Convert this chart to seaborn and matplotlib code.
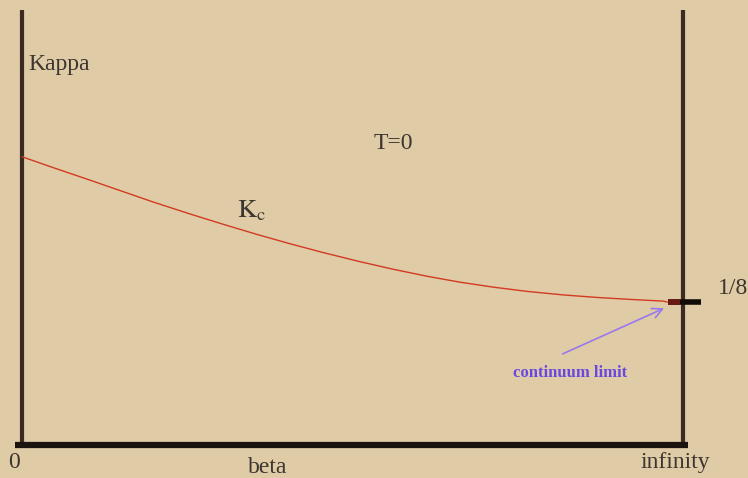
import matplotlib
matplotlib.use("Agg")
import matplotlib.pyplot as plt
import seaborn as sns
import pandas as pd

# curva critica K_c(beta), beta reescalado: 0 -> 0, infinito -> 1
beta = [0.0, 0.047, 0.098, 0.148, 0.198, 0.254, 0.304, 0.356, 0.405,
        0.455, 0.511, 0.561, 0.613, 0.663, 0.713, 0.764, 0.819, 0.870,
        0.920, 0.970, 0.976]
kappa_c = [0.252, 0.2425, 0.2325, 0.2225, 0.2125, 0.202, 0.193, 0.184,
           0.176, 0.1683, 0.1603, 0.1537, 0.1475, 0.1423, 0.138, 0.1343,
           0.1312, 0.129, 0.1273, 0.1258, 0.125]
kappa_limit = 0.125   # 1/8, limite del continuo
kappa_top = 0.380

df = pd.DataFrame({"beta": beta, "kappa": kappa_c})

bg = "#dfcba5"
sns.set_style("white", {"axes.facecolor": bg, "figure.facecolor": bg})
plt.rcParams["font.family"] = ["Liberation Serif", "DejaVu Serif"]
plt.rcParams["mathtext.fontset"] = "stix"

fig = plt.figure(figsize=(7.48, 4.78), dpi=100)
ax = fig.add_axes([0, 0, 1, 1])
ax.set_xlim(-0.0333, 1.098)
ax.set_ylim(-0.0288, 0.389)
ax.axis("off")

# ejes del diagrama de fases
ax.plot([0, 0], [0, kappa_top], color="#3b2b22", lw=3, solid_capstyle="butt")
ax.plot([1, 1], [0, kappa_top], color="#3b2b22", lw=3, solid_capstyle="butt")
ax.plot([-0.011, 1.008], [0, 0], color="#1a1410", lw=4.5, solid_capstyle="butt")

# curva K_c
sns.lineplot(data=df, x="beta", y="kappa", color="#d23a22", lw=1.0, ax=ax,
             legend=False)

# punto limite 1/8
ax.plot([0.977, 1.027], [kappa_limit, kappa_limit], color="#120c08", lw=4,
        solid_capstyle="butt")
ax.plot([0.977, 0.995], [kappa_limit, kappa_limit], color="#6a1a10", lw=4,
        solid_capstyle="butt")

txt = "#3c3630"
ax.text(0.009, 0.333, "Kappa", fontsize=17, color=txt, va="center", ha="left")
ax.text(0.561, 0.264, "T=0", fontsize=17, color=txt, va="center", ha="center")
ax.text(0.325, 0.205, r"$\mathrm{K_c}$", fontsize=19, color=txt, va="center",
        ha="left")
ax.text(1.053, 0.137, "1/8", fontsize=17, color=txt, va="center", ha="left")
ax.text(-0.012, -0.0149, "0", fontsize=17, color=txt, va="center",
        ha="center")
ax.text(0.372, -0.020, "beta", fontsize=17, color=txt, va="center",
        ha="center")
ax.text(0.988, -0.0149, "infinity", fontsize=17, color=txt, va="center",
        ha="center")

ax.annotate("", xy=(0.975, 0.1206), xytext=(0.814, 0.0787),
            arrowprops=dict(arrowstyle="->", color="#9a78ee", lw=1.2,
                            mutation_scale=18))
ax.text(0.829, 0.063, "continuum limit", fontsize=12, color="#6a48e0",
        fontweight="bold", va="center", ha="center")

fig.savefig("out.png", dpi=100, facecolor=bg)
